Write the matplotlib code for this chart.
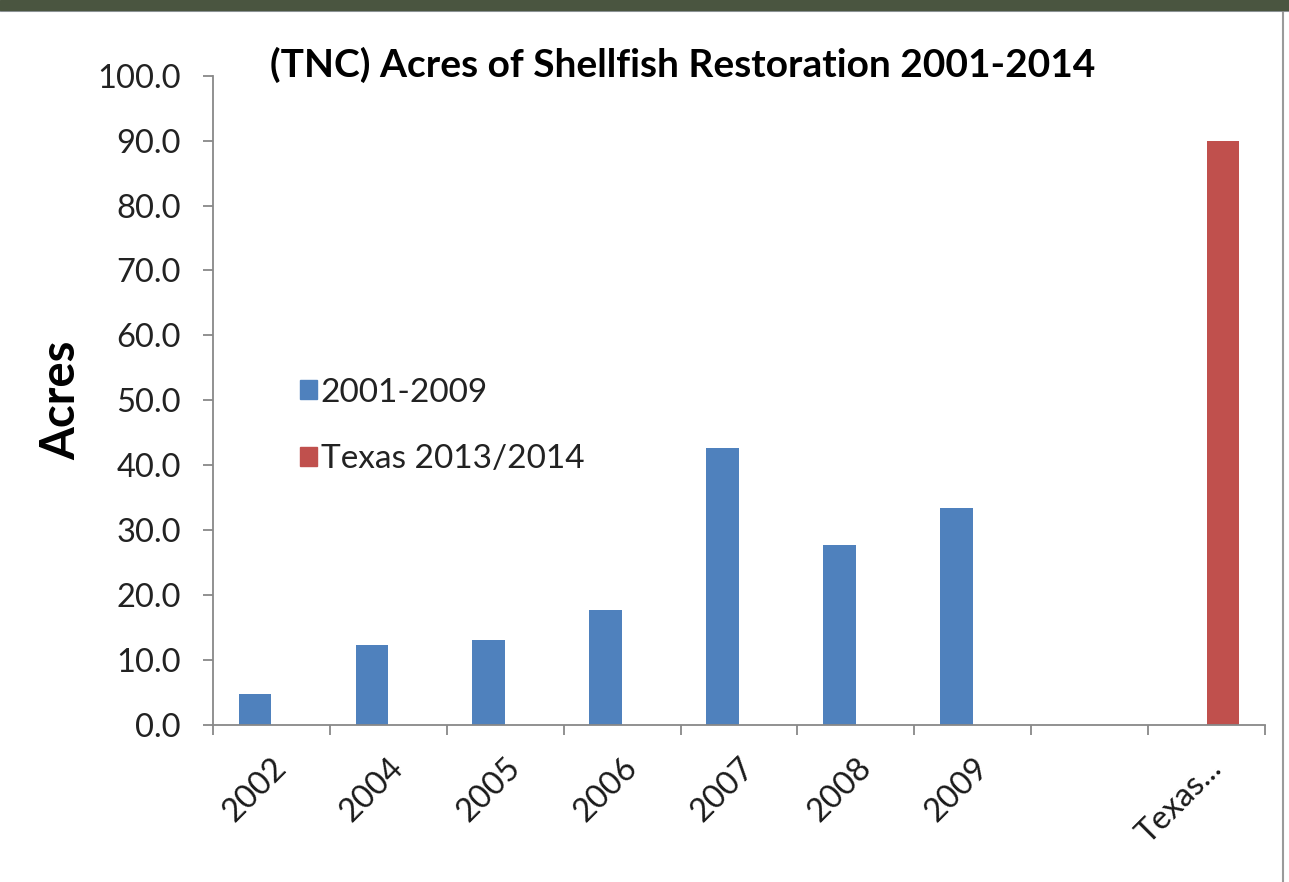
import matplotlib
matplotlib.use("Agg")
import matplotlib.pyplot as plt
from matplotlib.patches import Rectangle
from matplotlib.lines import Line2D
import numpy as np

plt.rcParams['font.family'] = ['Lato', 'DejaVu Sans']

categories = ["2002", "2004", "2005", "2006", "2007", "2008", "2009", "", "Texas..."]
acres_2001_2009 = [4.8, 12.3, 13.1, 17.7, 42.6, 27.7, 33.4, None, None]
acres_texas = [None, None, None, None, None, None, None, None, 90.0]
series_names = ["2001-2009", "Texas 2013/2014"]
yticks = [0, 10, 20, 30, 40, 50, 60, 70, 80, 90, 100]

blue = "#4F81BD"
red = "#C0504D"

fig = plt.figure(figsize=(12.89, 8.82), dpi=100)
ax = fig.add_axes([213 / 1289, 1 - 725 / 882, (1265 - 213) / 1289, (725 - 75.7) / 882])

x = np.arange(len(categories))
w = 0.28
bx = [xi for xi, v in zip(x, acres_2001_2009) if v is not None]
bv = [v for v in acres_2001_2009 if v is not None]
rx = [xi for xi, v in zip(x, acres_texas) if v is not None]
rv = [v for v in acres_texas if v is not None]
ax.bar(np.array(bx) - w / 2, bv, width=w, color=blue, label=series_names[0])
ax.bar(np.array(rx) + w / 2, rv, width=w, color=red, label=series_names[1])

ax.set_xlim(-0.5, len(categories) - 0.5)
ax.set_ylim(0, 100)
ax.set_yticks(yticks)
ax.set_yticklabels([f"{t:.1f}" for t in yticks])

ax.set_xticks(x)
ax.set_xticklabels(categories, rotation=45, ha="right", va="top",
                   rotation_mode="anchor", fontsize=23.5, color="#1a1a1a")
ax.set_xticks(np.arange(len(categories) + 1) - 0.5, minor=True)
ax.tick_params(axis="x", which="major", length=0, pad=20)
ax.tick_params(axis="x", which="minor", length=7, color="#888888", width=1.3)
ax.tick_params(axis="y", length=7, color="#888888", width=1.3, labelsize=23.5,
               labelcolor="#222222", pad=16)

for side in ("top", "right"):
    ax.spines[side].set_visible(False)
for side in ("left", "bottom"):
    ax.spines[side].set_color("#888888")
    ax.spines[side].set_linewidth(1.3)

ax.set_ylabel("Acres", fontsize=34, fontweight="bold", labelpad=10)
ax.set_title("(TNC) Acres of Shellfish Restoration 2001-2014",
             fontsize=28, fontweight="bold", x=0.446, y=1.0, pad=-1)

handles = [Rectangle((0, 0), 1, 1, color=blue), Rectangle((0, 0), 1, 1, color=red)]
ax.legend(handles, series_names, loc="center left", bbox_to_anchor=(0.0827, 0.4605),
          frameon=False, fontsize=24, handlelength=0.5, handleheight=0.5,
          handletextpad=0.12, labelspacing=1.09, labelcolor="#222222",
          borderpad=0, borderaxespad=0)

# surrounding frame: dark strip at top, grey rule at right
fig.patches.append(Rectangle((0, 1 - 10 / 882), 1, 10 / 882, transform=fig.transFigure,
                             color="#4a5540", zorder=5))
fig.lines.append(Line2D([0, 1], [1 - 11 / 882] * 2, transform=fig.transFigure,
                        color="#9aa0a8", lw=1.5))
fig.lines.append(Line2D([1283 / 1289] * 2, [0, 1 - 10 / 882], transform=fig.transFigure,
                        color="#9a9a9a", lw=1.5))

fig.savefig("out.png", dpi=100)
